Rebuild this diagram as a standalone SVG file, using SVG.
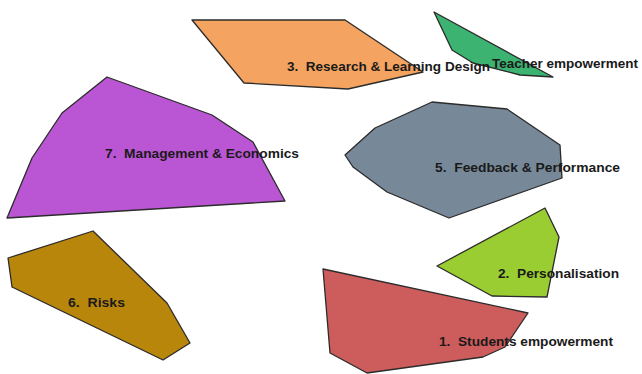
<svg xmlns="http://www.w3.org/2000/svg" width="642" height="374" viewBox="0 0 642 374">
  <style>
    .area { stroke: #2b2b2b; stroke-width: 1.3; stroke-linejoin: round; }
    .lbl { font-family: "Liberation Sans", Arial, sans-serif; font-weight: bold; font-size: 13.5px; fill: #1a1a1a; white-space: pre; }
  </style>
  <rect width="642" height="374" fill="#ffffff"/>

  <g id="cluster-3">
    <polygon class="area" fill="#F4A460" points="192,20 345,20 423,72 348,89 244,83"/>
  </g>
  <g id="cluster-4">
    <polygon class="area" fill="#3CB371" points="434,12 553,77 520,75 473,63 452,50"/>
  </g>
  <g id="cluster-7">
    <polygon class="area" fill="#BA55D3" points="107,77 212,115 253,142 285,201 7,218 32,158 62,113"/>
  </g>
  <g id="cluster-5">
    <polygon class="area" fill="#778899" points="345,155 375,128 432,102 507,109 560,145 562,178 449,218 387,192 353,167"/>
  </g>
  <g id="cluster-6">
    <polygon class="area" fill="#B8860B" points="8,258 93,231 167,303 190,343 163,360 12,287"/>
  </g>
  <g id="cluster-2">
    <polygon class="area" fill="#9ACD32" points="437,266 545,208 559,237 547,297 492,296"/>
  </g>
  <g id="cluster-1">
    <polygon class="area" fill="#CD5C5C" points="323,269 528,313 505,347 483,357 367,373 330,353"/>
  </g>

  <g id="labels" xml:space="preserve">
    <text class="lbl" x="287" y="71" textLength="203" lengthAdjust="spacingAndGlyphs">3.  Research &amp; Learning Design</text>
    <text class="lbl" x="492" y="68" textLength="146" lengthAdjust="spacingAndGlyphs">Teacher empowerment</text>
    <text class="lbl" x="105" y="158" textLength="194" lengthAdjust="spacingAndGlyphs">7.  Management &amp; Economics</text>
    <text class="lbl" x="435" y="172" textLength="185" lengthAdjust="spacingAndGlyphs">5.  Feedback &amp; Performance</text>
    <text class="lbl" x="68" y="307" textLength="57" lengthAdjust="spacingAndGlyphs">6.  Risks</text>
    <text class="lbl" x="498" y="278" textLength="121" lengthAdjust="spacingAndGlyphs">2.  Personalisation</text>
    <text class="lbl" x="439" y="346" textLength="174" lengthAdjust="spacingAndGlyphs">1.  Students empowerment</text>
  </g>
</svg>
